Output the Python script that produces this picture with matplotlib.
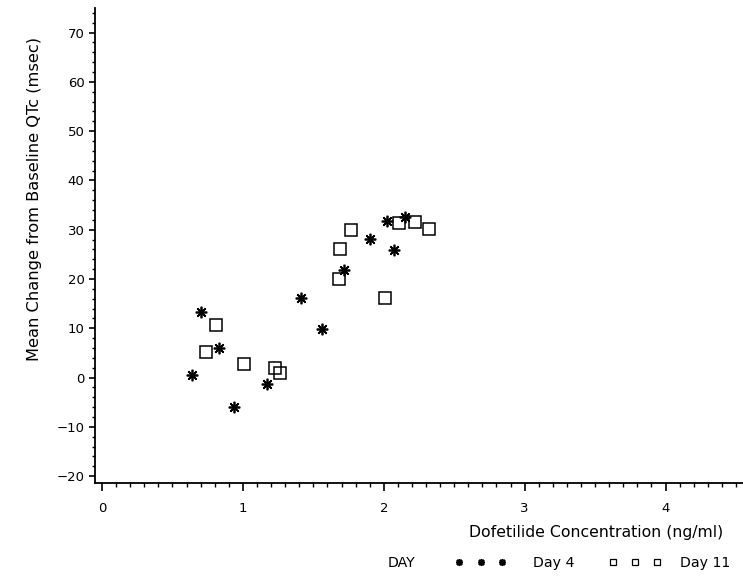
import matplotlib
matplotlib.use("Agg")
import matplotlib.pyplot as plt
from matplotlib.ticker import MultipleLocator
from matplotlib.lines import Line2D

plt.rcParams['font.family'] = ['DejaVu Sans']

# Mean change from baseline QTc versus dofetilide plasma concentration
day4_conc = [0.70, 0.83, 0.64, 0.94, 1.17, 1.41, 1.56, 1.72, 1.90, 2.02, 2.15, 2.07]
day4_dqtc = [13.4, 6.0, 0.6, -6.0, -1.4, 16.1, 9.9, 21.9, 28.2, 31.7, 32.6, 25.8]

day11_conc = [0.81, 0.74, 1.01, 1.23, 1.26, 1.68, 1.69, 1.77, 2.01, 2.11, 2.22, 2.32]
day11_dqtc = [10.6, 5.1, 2.7, 1.9, 0.9, 20.1, 26.1, 29.9, 16.1, 31.3, 31.5, 30.2]

series_labels = ["Day 4", "Day 11"]
legend_title = "DAY"
x_label = "Dofetilide Concentration (ng/ml)"
y_label = "Mean Change from Baseline QTc (msec)"

W, H = 743, 588
fig = plt.figure(figsize=(W / 100, H / 100), dpi=100)
ax = fig.add_axes([95 / W, (H - 483) / H, 1 - 95 / W, (483 - 8) / H])

star = (8, 2, 0)
ax.plot(day4_conc, day4_dqtc, linestyle='none', marker=star, markersize=8.3,
        markeredgewidth=1.25, color='black')
ax.plot(day11_conc, day11_dqtc, linestyle='none', marker='s', markersize=8.4,
        markeredgewidth=1.1, markerfacecolor='none', markeredgecolor='black')

ax.set_xlim(-0.05, 4.55)
ax.set_ylim(-21.4, 75)
ax.xaxis.set_major_locator(MultipleLocator(1))
ax.xaxis.set_minor_locator(MultipleLocator(0.1))
ax.yaxis.set_major_locator(MultipleLocator(10))
ax.yaxis.set_minor_locator(MultipleLocator(2))
ax.xaxis.set_major_formatter(lambda v, pos: f"{v:g}")

for side in ('top', 'right'):
    ax.spines[side].set_visible(False)
for side in ('left', 'bottom'):
    ax.spines[side].set_linewidth(1.3)

ax.tick_params(axis='x', which='major', length=6, width=1.2, labelsize=9.5, pad=8)
ax.tick_params(axis='x', which='minor', length=3, width=1.0)
ax.tick_params(axis='y', which='major', length=4.5, width=1.2, labelsize=9.5, pad=3)
ax.tick_params(axis='y', which='minor', length=2.5, width=1.0)

fig.text(596 / W, 1 - 533 / H, x_label, ha='center', va='center', fontsize=11.3)
fig.text(35 / W, 1 - 199 / H, y_label, ha='center', va='center',
         rotation=90, fontsize=11.7)

# Legend row: title, then one key per day
legend_fs = 10.2
key_y = 1 - 563 / H
fig.text(401 / W, key_y, legend_title, ha='center', va='center', fontsize=legend_fs)

star_key = Line2D([], [], linestyle='none', marker=star, markersize=5,
                  markeredgewidth=1.2, color='black')
square_key = Line2D([], [], linestyle='none', marker='s', markersize=4.4,
                    markeredgewidth=0.9, markerfacecolor='none',
                    markeredgecolor='black')

fs_px = legend_fs * 100 / 72
fig.legend([star_key], series_labels[:1], loc='center left',
           bbox_to_anchor=((459 - 0.3 * fs_px) / W, key_y), numpoints=3,
           frameon=False, fontsize=legend_fs, borderpad=0, borderaxespad=0,
           handlelength=(43 + 0.6 * fs_px) / fs_px,
           handletextpad=(533 - 502 - 0.3 * fs_px) / fs_px)
fig.legend([square_key], series_labels[1:], loc='center left',
           bbox_to_anchor=((613 - 0.3 * fs_px) / W, key_y), numpoints=3,
           frameon=False, fontsize=legend_fs, borderpad=0, borderaxespad=0,
           handlelength=(44 + 0.6 * fs_px) / fs_px,
           handletextpad=(680 - 657 - 0.3 * fs_px) / fs_px)

fig.savefig("out.png", dpi=100, facecolor='white')
